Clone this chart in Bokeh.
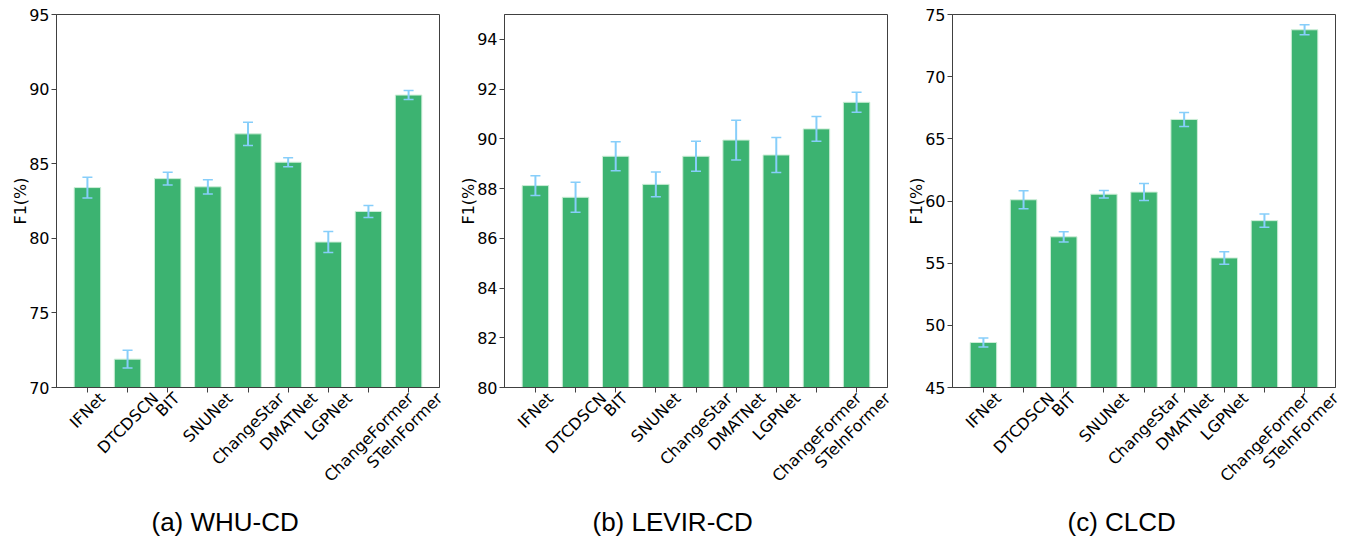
import math
from bokeh.plotting import figure
from bokeh.models import (Range1d, FixedTicker, ColumnDataSource, Whisker,
                          TeeHead, LinearAxis, Title)
from bokeh.layouts import row
from bokeh.embed import file_html
from bokeh.resources import INLINE

# ---------------- data ----------------
methods = ["IFNet", "DTCDSCN", "BIT", "SNUNet", "ChangeStar", "DMATNet",
           "LGPNet", "ChangeFormer", "STeInFormer"]

whu_f1 = [83.4, 71.9, 84.0, 83.45, 87.0, 85.1, 79.75, 81.8, 89.6]
whu_err = [0.7, 0.6, 0.42, 0.48, 0.78, 0.3, 0.7, 0.4, 0.3]

levir_f1 = [88.12, 87.65, 89.3, 88.17, 89.3, 89.95, 89.35, 90.4, 91.47]
levir_err = [0.4, 0.6, 0.58, 0.5, 0.6, 0.8, 0.7, 0.5, 0.4]

clcd_f1 = [48.62, 60.1, 57.12, 60.55, 60.72, 66.56, 55.42, 58.42, 73.77]
clcd_err = [0.37, 0.72, 0.41, 0.3, 0.68, 0.56, 0.5, 0.53, 0.4]

captions = ["(a) WHU-CD", "(b) LEVIR-CD", "(c) CLCD"]
y_ranges = [(70, 95), (80, 95), (45, 75)]
y_ticks = [[70, 75, 80, 85, 90, 95],
           [80, 82, 84, 86, 88, 90, 92, 94],
           [45, 50, 55, 60, 65, 70, 75]]
y_label = "F1(%)"

# ---------------- style ----------------
BAR = "#3cb371"
BAR_EDGE = "#cdeed8"
ERR = "#87cefa"
SPINE = "#404040"
TICK_FONT = "DejaVu Sans"
FRAME_W, FRAME_H = 383, 373
X_LO, X_HI = -0.77, len(methods) - 1 + 0.77

# approximate DejaVu Sans advance widths (em) used to centre rotated labels
_cw = {"I": .295, "F": .575, "N": .748, "e": .615, "t": .392, "D": .770, "T": .611,
       "C": .698, "S": .635, "B": .686, "U": .732, "h": .634, "a": .613, "n": .634,
       "g": .635, "s": .521, "r": .411, "M": .863, "A": .684, "L": .557, "G": .775,
       "P": .603, "o": .612, "m": .974, "E": .632, "i": .278}


def text_w(s, size=16):
    return sum(_cw.get(c, 0.6) for c in s) * size


def panel(vals, errs, yr, yt, caption, cap_off, left, right):
    n = len(methods)
    xs = list(range(n))
    p = figure(frame_width=FRAME_W, frame_height=FRAME_H,
               min_border_left=left, min_border_right=right,
               min_border_top=14, min_border_bottom=151,
               x_range=Range1d(X_LO, X_HI), y_range=Range1d(*yr),
               output_backend="svg", toolbar_location=None)
    p.grid.visible = False
    p.outline_line_color = SPINE
    p.outline_line_width = 1

    src = ColumnDataSource(dict(
        x=xs, top=vals,
        upper=[v + e for v, e in zip(vals, errs)],
        lower=[v - e for v, e in zip(vals, errs)],
    ))
    p.vbar(x="x", top="top", bottom=0, width=0.66, source=src,
           fill_color=BAR, line_color=BAR_EDGE, line_width=1)

    w = Whisker(base="x", upper="upper", lower="lower", source=src,
                dimension="height", line_color=ERR, line_width=2,
                level="annotation",
                upper_head=TeeHead(size=10, line_color=ERR, line_width=1.5),
                lower_head=TeeHead(size=10, line_color=ERR, line_width=1.5))
    p.add_layout(w)

    for ax in (p.xaxis[0], p.yaxis[0]):
        ax.axis_line_color = SPINE
        ax.major_tick_line_color = SPINE
        ax.minor_tick_line_color = None
        ax.major_tick_out = 5
        ax.major_tick_in = 0
        ax.major_label_text_font = TICK_FONT
        ax.major_label_text_font_size = "16px"
        ax.major_label_text_color = "black"
    p.yaxis.ticker = FixedTicker(ticks=yt)
    p.yaxis.major_label_standoff = 2
    p.yaxis.axis_label = y_label
    p.yaxis.axis_label_text_font = TICK_FONT
    p.yaxis.axis_label_text_font_size = "16px"
    p.yaxis.axis_label_text_font_style = "normal"
    p.yaxis.axis_label_text_color = "black"
    p.yaxis.axis_label_standoff = -4

    # tick marks at each bar (labels drawn by second axis below)
    p.xaxis.ticker = FixedTicker(ticks=xs)
    p.xaxis.major_label_overrides = {i: "" for i in xs}
    p.xaxis.major_label_standoff = 0

    # label axis: rotated names, shifted so each label is centred under its tick
    px_per_unit = FRAME_W / (X_HI - X_LO)
    pos = [min(i + 0.354 * text_w(m) / px_per_unit, X_HI - 0.001)
           for i, m in zip(xs, methods)]
    lab_ax = LinearAxis(ticker=FixedTicker(ticks=pos),
                        major_label_overrides={t: m for t, m in zip(pos, methods)},
                        axis_line_color=None, major_tick_line_color=None,
                        minor_tick_line_color=None,
                        major_tick_out=0, major_tick_in=0,
                        major_label_orientation=math.pi / 4,
                        major_label_standoff=3,
                        major_label_text_font=TICK_FONT,
                        major_label_text_font_size="16px",
                        major_label_text_color="black")
    p.add_layout(lab_ax, "below")

    # invisible spacer axis between labels and caption
    spacer = LinearAxis(ticker=FixedTicker(ticks=[0]),
                        major_label_overrides={0: ""},
                        axis_line_color=None,
                        major_tick_line_color=None, minor_tick_line_color=None,
                        major_tick_out=11, major_tick_in=0, major_label_standoff=0)
    p.add_layout(spacer, "below")

    p.add_layout(Title(text=caption, align="left", offset=cap_off,
                       vertical_align="top", standoff=0,
                       text_font="Liberation Sans", text_font_size="26px",
                       text_font_style="normal", text_color="black"), "below")
    return p


p1 = panel(whu_f1, whu_err, y_ranges[0], y_ticks[0], captions[0], 95, 56, 9)
p2 = panel(levir_f1, levir_err, y_ranges[1], y_ticks[1], captions[1], 88, 56, 9)
p3 = panel(clcd_f1, clcd_err, y_ranges[2], y_ticks[2], captions[2], 115, 56, 12)

layout = row(p1, p2, p3)
open("out.html", "w").write(file_html(layout, INLINE))
